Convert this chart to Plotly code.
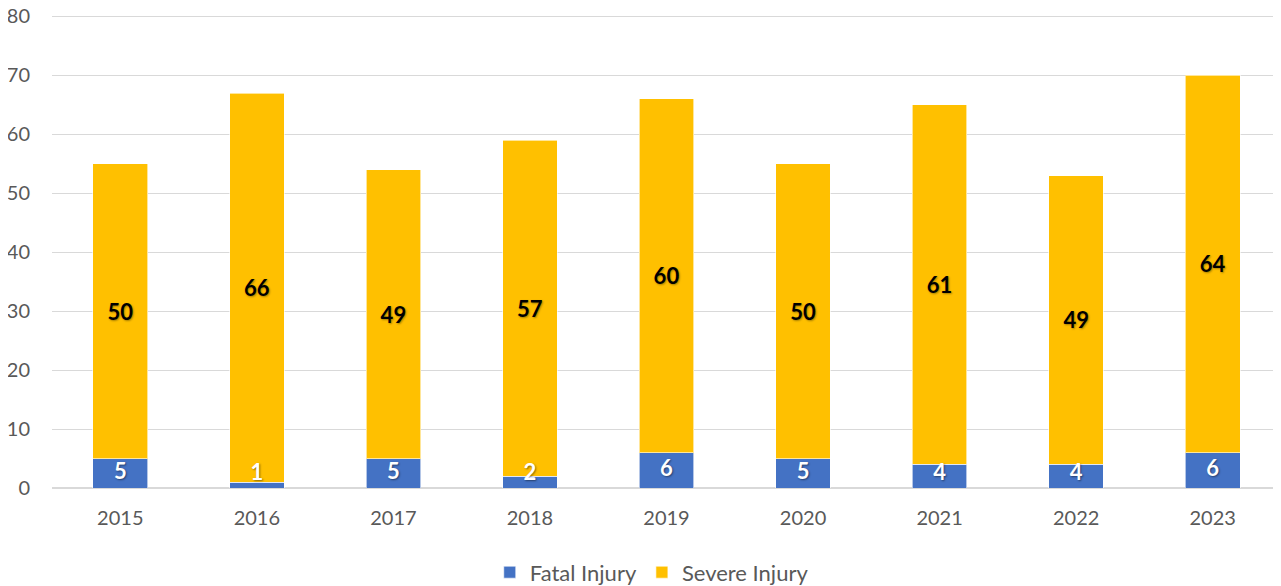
import plotly.graph_objects as go

years = ["2015", "2016", "2017", "2018", "2019", "2020", "2021", "2022", "2023"]
fatal = [5, 1, 5, 2, 6, 5, 4, 4, 6]
severe = [50, 66, 49, 57, 60, 50, 61, 49, 64]
y_ticks = [0, 10, 20, 30, 40, 50, 60, 70, 80]

FONT = "Lato, 'Open Sans', sans-serif"
MIN_LABEL_Y = 2.3  # keep small-segment labels above the axis, like the original

fig = go.Figure()
fig.add_trace(go.Bar(
    x=years, y=fatal, name="Fatal Injury",
    marker=dict(color="#4472C4", line=dict(color="rgba(255,255,255,0.6)", width=1)),
    hoverinfo="y+name",
))
fig.add_trace(go.Bar(
    x=years, y=severe, name="Severe Injury",
    marker=dict(color="#FFC000", line=dict(color="rgba(255,255,255,0.6)", width=1)),
    text=severe, textposition="inside", insidetextanchor="middle",
    constraintext="none",
    textfont=dict(family=FONT, size=22, color="black", weight="bold",
                  shadow="1px 1px 2px rgba(0,0,0,0.35)"),
    textangle=0,
))
# labels for the fatal segments (drawn on top so they are never hidden)
fig.add_trace(go.Scatter(
    x=years, y=[max(v / 2, MIN_LABEL_Y) for v in fatal],
    mode="text", text=[str(v) for v in fatal], textposition="middle center",
    textfont=dict(family=FONT, size=22, color="white", weight="bold",
                  shadow="1px 1px 2px rgba(0,0,0,0.45)"),
    showlegend=False, hoverinfo="skip", cliponaxis=False,
))

fig.update_layout(
    barmode="stack",
    bargap=0.6,
    width=1273, height=578,
    margin=dict(l=44, r=0, t=6, b=98, autoexpand=False),
    paper_bgcolor="white", plot_bgcolor="white",
    font=dict(family=FONT, color="#595959", size=20),
    showlegend=True,
    legend=dict(orientation="h", x=0.488, xanchor="center", y=-0.178, yanchor="middle",
                font=dict(size=22, color="#595959"), traceorder="normal",
                itemwidth=30),
)
fig.update_xaxes(showgrid=False, showline=False, ticks="",
                 tickfont=dict(size=20, color="#595959"), ticklabelstandoff=16,
                 automargin=False)
fig.update_yaxes(range=[0, 80.4], tickvals=y_ticks, showgrid=True, gridcolor="#D9D9D9",
                 gridwidth=1, zeroline=True, zerolinecolor="#D9D9D9", zerolinewidth=1.5,
                 showline=False, ticks="",
                 tickfont=dict(size=20, color="#595959"), ticklabelstandoff=21,
                 ticklabeloverflow="allow", automargin=False)

fig.write_html("out.html")
